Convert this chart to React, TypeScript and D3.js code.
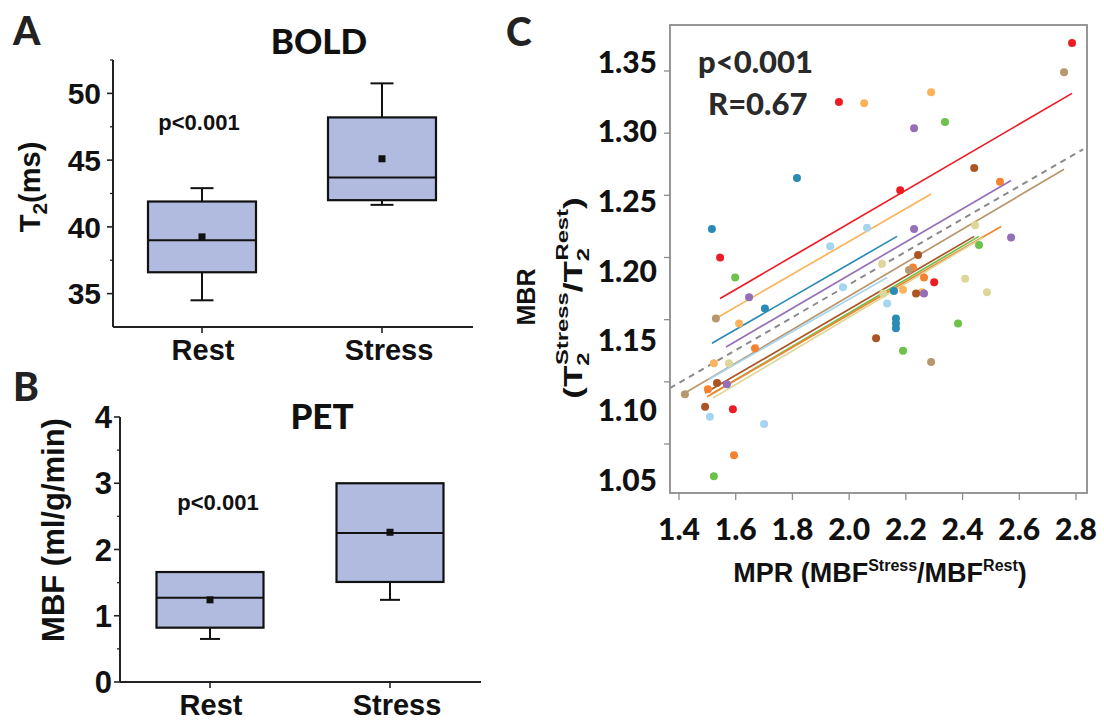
import React, { useEffect, useRef } from 'react';
import * as d3 from 'd3';

// ---- panel A / B (box plots) ----
const groups = ['Rest', 'Stress'];

const boldQ1 = [36.6, 42.0];
const boldQ3 = [41.9, 48.2];
const boldMedian = [39.0, 43.7];
const boldMean = [39.25, 45.1];
const boldWhiskerLow = [34.5, 41.65];
const boldWhiskerHigh = [42.9, 50.75];
const boldTicks = [35, 40, 45, 50];
const boldMinorTicks = [37.5, 42.5, 47.5, 52.5];

const petQ1 = [0.82, 1.51];
const petQ3 = [1.66, 3.0];
const petMedian = [1.27, 2.25];
const petMean = [1.24, 2.26];
const petWhiskerLow = [0.65, 1.24];
const petWhiskerHigh = [1.6, 2.98];
const petTicks = [0, 1, 2, 3, 4];
const petMinorTicks = [0.5, 1.5, 2.5, 3.5];

// ---- panel C (scatter, one colour per subject) ----
const subjectColors = ['#ed1c24', '#fbb45c', '#2a8bb5', '#9470b8', '#6cc24a',
  '#ad5424', '#f58231', '#b8976e', '#a6d5f0', '#ded79a'];

const mpr = [
  [1.545, 1.964, 2.786, 2.18, 2.30, 1.59],
  [2.289, 2.053, 1.612, 1.523, 2.19, 2.257],
  [1.516, 1.816, 1.703, 2.158, 2.165, 2.165, 2.165],
  [2.229, 2.229, 2.571, 1.647, 1.569, 2.264],
  [1.598, 2.338, 2.458, 2.384, 2.19, 1.523],
  [2.441, 2.243, 2.236, 2.095, 1.534, 1.492],
  [2.532, 2.225, 2.264, 1.668, 1.502, 1.594],
  [2.758, 2.211, 1.53, 2.289, 1.421],
  [2.063, 1.933, 1.978, 2.134, 1.509, 1.70],
  [2.444, 2.116, 2.409, 2.486, 1.576, 2.12],
];
const mbr = [
  [1.200, 1.325, 1.3725, 1.254, 1.180, 1.078],
  [1.333, 1.324, 1.147, 1.115, 1.174, 1.172],
  [1.223, 1.264, 1.159, 1.173, 1.151, 1.147, 1.143],
  [1.304, 1.223, 1.216, 1.168, 1.098, 1.171],
  [1.184, 1.309, 1.210, 1.147, 1.125, 1.024],
  [1.272, 1.202, 1.171, 1.135, 1.099, 1.080],
  [1.261, 1.192, 1.184, 1.127, 1.094, 1.041],
  [1.349, 1.190, 1.151, 1.116, 1.090],
  [1.224, 1.209, 1.176, 1.163, 1.072, 1.066],
  [1.226, 1.195, 1.183, 1.172, 1.115, 1.171],
];

const fitStartX = [1.545, 1.530, 1.516, 1.566, 1.513, 1.492, 1.499, 1.421, 1.506, 1.520];
const fitEndX = [2.786, 2.289, 2.169, 2.571, 2.458, 2.441, 2.536, 2.758, 2.134, 2.472];
const fitStartY = [1.167, 1.151, 1.131, 1.128, 1.090, 1.091, 1.088, 1.091, 1.102, 1.087];
const fitEndY = [1.332, 1.251, 1.217, 1.262, 1.217, 1.217, 1.225, 1.271, 1.184, 1.216];
const overallFitX = [1.368, 2.825];
const overallFitY = [1.095, 1.287];

const mprTicks = [1.4, 1.6, 1.8, 2.0, 2.2, 2.4, 2.6, 2.8];
const mbrTicks = [1.05, 1.10, 1.15, 1.20, 1.25, 1.30, 1.35];

const ARIAL = "'Liberation Sans', Arial, sans-serif";
const CALIBRI = "Lato, 'Open Sans', sans-serif";
const BOX_FILL = '#b1badf';

function drawBoxPanel(svg, cfg) {
  const g = svg.append('g');
  const y = d3.scaleLinear().domain(cfg.yDomain).range(cfg.yRange);
  const x = d3.scalePoint().domain(groups).range(cfg.xRange);
  const yBottom = cfg.yRange[0];

  // axes
  g.append('line').attr('x1', cfg.axisX).attr('x2', cfg.axisX)
    .attr('y1', yBottom).attr('y2', cfg.yRange[1])
    .attr('stroke', '#222').attr('stroke-width', 2);
  g.append('line').attr('x1', cfg.axisX).attr('x2', cfg.axisEnd)
    .attr('y1', yBottom).attr('y2', yBottom)
    .attr('stroke', '#222').attr('stroke-width', 2);

  g.selectAll('.major').data(cfg.ticks).enter().append('line')
    .attr('x1', cfg.axisX - 6).attr('x2', cfg.axisX)
    .attr('y1', (d) => y(d)).attr('y2', (d) => y(d))
    .attr('stroke', '#222').attr('stroke-width', 1.6);
  g.selectAll('.minor').data(cfg.minorTicks).enter().append('line')
    .attr('x1', cfg.axisX - 3).attr('x2', cfg.axisX)
    .attr('y1', (d) => y(d)).attr('y2', (d) => y(d))
    .attr('stroke', '#222').attr('stroke-width', 1.3);
  g.selectAll('.ylab').data(cfg.ticks).enter().append('text')
    .attr('x', cfg.labelRight).attr('y', (d) => y(d))
    .attr('dy', '0.36em').attr('text-anchor', 'end')
    .style('font-family', ARIAL).style('font-weight', 700)
    .style('font-size', `${cfg.tickFont}px`).attr('fill', '#111')
    .text((d) => d);

  g.selectAll('.xtick').data(groups).enter().append('line')
    .attr('x1', (d) => x(d)).attr('x2', (d) => x(d))
    .attr('y1', yBottom).attr('y2', yBottom + 6)
    .attr('stroke', '#222').attr('stroke-width', 1.6);
  g.selectAll('.xlab').data(groups).enter().append('text')
    .attr('x', (d, i) => x(d) + (i === 1 ? 7 : 1)).attr('y', cfg.groupBaseline)
    .attr('text-anchor', 'middle')
    .style('font-family', ARIAL).style('font-weight', 700)
    .style('font-size', '29px').attr('fill', '#111')
    .text((d) => d);

  // boxes
  const idx = [0, 1];
  const half = cfg.boxWidth / 2;
  const cap = cfg.capWidth / 2;
  idx.forEach((i) => {
    const cx = x(groups[i]);
    const line = (x1, y1, x2, y2) => g.append('line')
      .attr('x1', x1).attr('y1', y1).attr('x2', x2).attr('y2', y2)
      .attr('stroke', '#111').attr('stroke-width', 2);
    line(cx, y(cfg.q3[i]), cx, y(cfg.hi[i]));
    line(cx - cap, y(cfg.hi[i]), cx + cap, y(cfg.hi[i]));
    line(cx, y(cfg.q1[i]), cx, y(cfg.lo[i]));
    line(cx - cap, y(cfg.lo[i]), cx + cap, y(cfg.lo[i]));
    g.append('rect')
      .attr('x', cx - half).attr('width', cfg.boxWidth)
      .attr('y', y(cfg.q3[i])).attr('height', y(cfg.q1[i]) - y(cfg.q3[i]))
      .attr('fill', BOX_FILL).attr('stroke', '#111').attr('stroke-width', 2.2);
    line(cx - half, y(cfg.median[i]), cx + half, y(cfg.median[i]));
    g.append('rect')
      .attr('x', cx - 3.5).attr('y', y(cfg.mean[i]) - 3.5)
      .attr('width', 7).attr('height', 7).attr('fill', '#111');
  });

  // texts
  g.append('text').attr('x', 13).attr('y', cfg.letterY)
    .style('font-family', CALIBRI).style('font-weight', 900).style('font-size', '39px')
    .attr('fill', '#222').text(cfg.letter);
  g.append('text').attr('x', cfg.titleX).attr('y', cfg.titleY).attr('text-anchor', 'middle')
    .style('font-family', CALIBRI).style('font-weight', 900).style('font-size', '35px')
    .attr('fill', '#111').text(cfg.title);
  g.append('text').attr('x', cfg.pX).attr('y', cfg.pY).attr('text-anchor', 'middle')
    .style('font-family', ARIAL).style('font-weight', 700).style('font-size', '22px')
    .attr('fill', '#111').text('p<0.001');
  return g;
}

export default function App() {
  const ref = useRef(null);

  useEffect(() => {
    const svg = d3.select(ref.current);
    svg.selectAll('*').remove();

    // ---------- A ----------
    const gA = drawBoxPanel(svg, {
      yDomain: [32.5, 52.5], yRange: [327, 60], xRange: [202, 382],
      axisX: 113, axisEnd: 473, ticks: boldTicks, minorTicks: boldMinorTicks,
      labelRight: 101, tickFont: 30, groupBaseline: 360,
      q1: boldQ1, q3: boldQ3, median: boldMedian, mean: boldMean,
      lo: boldWhiskerLow, hi: boldWhiskerHigh, boxWidth: 108, capWidth: 23,
      letter: 'A', letterY: 45, title: 'BOLD', titleX: 319, titleY: 54, pX: 199, pY: 130,
    });
    const yLabA = gA.append('text').attr('transform', 'translate(40,187) rotate(-90)')
      .attr('text-anchor', 'middle')
      .style('font-family', ARIAL).style('font-weight', 700).style('font-size', '29px')
      .attr('fill', '#111');
    yLabA.append('tspan').text('T');
    yLabA.append('tspan').attr('dy', 7).style('font-size', '21px').text('2');
    yLabA.append('tspan').attr('dy', -7).text('(ms)');

    // ---------- B ----------
    const gB = drawBoxPanel(svg, {
      yDomain: [0, 4], yRange: [682, 417], xRange: [210, 390],
      axisX: 120, axisEnd: 481, ticks: petTicks, minorTicks: petMinorTicks,
      labelRight: 112, tickFont: 31, groupBaseline: 715,
      q1: petQ1, q3: petQ3, median: petMedian, mean: petMean,
      lo: petWhiskerLow, hi: petWhiskerHigh, boxWidth: 107, capWidth: 20,
      letter: 'B', letterY: 401, title: 'PET', titleX: 322, titleY: 429, pX: 218, pY: 510,
    });
    gB.append('text').attr('transform', 'translate(64,530) rotate(-90)')
      .attr('text-anchor', 'middle')
      .style('font-family', ARIAL).style('font-weight', 700).style('font-size', '31px')
      .attr('fill', '#111').text('MBF (ml/g/min)');

    // ---------- C ----------
    const gC = svg.append('g');
    const x = d3.scaleLinear().domain([1.4, 2.8]).range([679, 1076]);
    const y = d3.scaleLinear().domain([1.05, 1.35]).range([444, 71]);
    // the tick labels of the original sit on their own, slightly wider, spacing
    const yLabelPos = d3.scaleLinear().domain([1.05, 1.35]).range([480, 62]);

    gC.append('rect').attr('x', 670).attr('y', 25).attr('width', 417).attr('height', 468)
      .attr('fill', '#fff').attr('stroke', '#8c8c8c').attr('stroke-width', 1.8);

    gC.selectAll('.yt').data(mbrTicks).enter().append('line')
      .attr('x1', 664).attr('x2', 670).attr('y1', (d) => y(d)).attr('y2', (d) => y(d))
      .attr('stroke', '#8c8c8c').attr('stroke-width', 1.3);
    gC.selectAll('.xt').data(mprTicks).enter().append('line')
      .attr('x1', (d) => x(d)).attr('x2', (d) => x(d)).attr('y1', 493).attr('y2', 500)
      .attr('stroke', '#8c8c8c').attr('stroke-width', 1.3);

    gC.selectAll('.yl').data(mbrTicks).enter().append('text')
      .attr('x', 657).attr('y', (d) => yLabelPos(d)).attr('dy', '0.36em')
      .attr('text-anchor', 'end')
      .style('font-family', CALIBRI).style('font-weight', 900).style('font-size', '30px')
      .attr('fill', '#111').text((d) => d.toFixed(2));
    gC.selectAll('.xl').data(mprTicks).enter().append('text')
      .attr('x', (d) => x(d)).attr('y', 540).attr('text-anchor', 'middle')
      .style('font-family', CALIBRI).style('font-weight', 900).style('font-size', '30px')
      .attr('fill', '#111').text((d) => d.toFixed(1));

    // regression lines per subject
    const lines = gC.append('g');
    subjectColors.forEach((c, i) => {
      lines.append('line')
        .attr('x1', x(fitStartX[i])).attr('y1', y(fitStartY[i]))
        .attr('x2', x(fitEndX[i])).attr('y2', y(fitEndY[i]))
        .attr('stroke', c).attr('stroke-width', 1.7);
    });
    lines.append('line')
      .attr('x1', x(overallFitX[0])).attr('y1', y(overallFitY[0]))
      .attr('x2', x(overallFitX[1])).attr('y2', y(overallFitY[1]))
      .attr('stroke', '#8a8a8a').attr('stroke-width', 2)
      .attr('stroke-dasharray', '6,5');

    // points
    subjectColors.forEach((c, i) => {
      const pts = mpr[i].map((v, j) => [v, mbr[i][j]]);
      gC.append('g').selectAll('circle').data(pts).enter().append('circle')
        .attr('cx', (d) => x(d[0])).attr('cy', (d) => y(d[1])).attr('r', 4)
        .attr('fill', c);
    });

    gC.append('text').attr('x', 698).attr('y', 73)
      .style('font-family', CALIBRI).style('font-weight', 900).style('font-size', '31px')
      .attr('fill', '#2a2a2a').text('p<0.001');
    gC.append('text').attr('x', 708).attr('y', 115)
      .style('font-family', CALIBRI).style('font-weight', 900).style('font-size', '31px')
      .attr('fill', '#2a2a2a').text('R=0.67');
    gC.append('text').attr('x', 506).attr('y', 46)
      .style('font-family', CALIBRI).style('font-weight', 900).style('font-size', '39px')
      .attr('fill', '#222').text('C');

    // x label
    const xl = gC.append('text').attr('x', 880).attr('y', 582).attr('text-anchor', 'middle')
      .style('font-family', ARIAL).style('font-weight', 700).style('font-size', '27px')
      .attr('fill', '#111');
    xl.append('tspan').text('MPR (MBF');
    xl.append('tspan').attr('dy', -11).style('font-size', '16px').text('Stress');
    xl.append('tspan').attr('dy', 11).text('/MBF');
    xl.append('tspan').attr('dy', -11).style('font-size', '16px').text('Rest');
    xl.append('tspan').attr('dy', 11).text(')');

    // y label (two rotated lines, the second one stretched along its length as in the original)
    gC.append('text').attr('transform', 'translate(535,297) rotate(-90)')
      .attr('text-anchor', 'middle')
      .style('font-family', ARIAL).style('font-weight', 700).style('font-size', '25px')
      .attr('fill', '#111').text('MBR');
    const l2 = gC.append('text').attr('transform', 'translate(582,298) rotate(-90) scale(1.4,1)')
      .attr('text-anchor', 'middle')
      .style('font-family', ARIAL).style('font-weight', 700).style('font-size', '25px')
      .attr('fill', '#111');
    l2.append('tspan').text('(T');
    l2.append('tspan').attr('dy', 7).style('font-size', '17px').text('2');
    l2.append('tspan').attr('dx', -9).attr('dy', -21).style('font-size', '17px').text('Stress');
    l2.append('tspan').attr('dy', 14).text('/T');
    l2.append('tspan').attr('dy', 7).style('font-size', '17px').text('2');
    l2.append('tspan').attr('dx', -9).attr('dy', -21).style('font-size', '17px').text('Rest');
    l2.append('tspan').attr('dy', 14).text(')');
  }, []);

  return (
    <svg ref={ref} width={1104} height={720}
      style={{ position: 'absolute', left: 0, top: 0, background: '#fff' }} />
  );
}
